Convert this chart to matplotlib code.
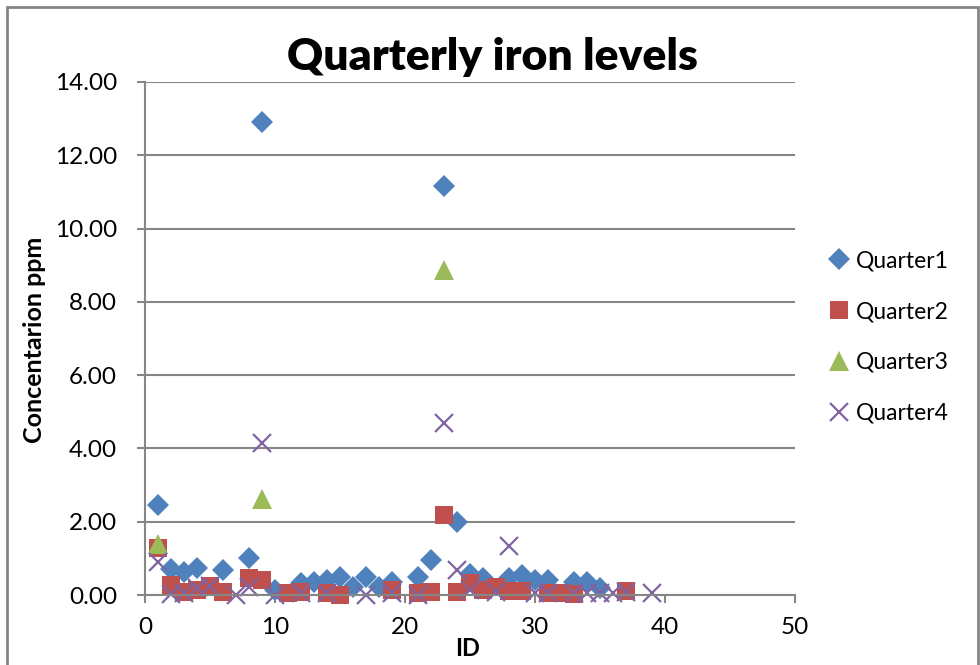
import matplotlib
matplotlib.use("Agg")
import matplotlib.pyplot as plt
from matplotlib.patches import Rectangle

plt.rcParams['font.family'] = ['Lato', 'DejaVu Sans']

# ---- data ----
q1_x = [1, 2, 3, 4, 6, 8, 9, 10, 12, 13, 14, 15, 16, 17, 18, 19, 21, 22, 23, 24,
        25, 26, 28, 29, 30, 31, 33, 34, 35]
q1_y = [2.45, 0.72, 0.64, 0.75, 0.67, 1.02, 12.92, 0.14, 0.33, 0.35, 0.41, 0.49,
        0.22, 0.49, 0.22, 0.35, 0.49, 0.96, 11.17, 1.98, 0.58, 0.46, 0.46, 0.55,
        0.41, 0.41, 0.35, 0.35, 0.19]

q2_x = [1, 2, 3, 4, 5, 6, 8, 9, 11, 12, 14, 15, 19, 21, 22, 23, 24, 25, 26, 27,
        28, 29, 31, 32, 33, 37]
q2_y = [1.28, 0.27, 0.08, 0.14, 0.25, 0.08, 0.46, 0.41, 0.05, 0.08, 0.05, 0.00,
        0.14, 0.05, 0.08, 2.18, 0.08, 0.33, 0.14, 0.22, 0.10, 0.12, 0.05, 0.05,
        0.02, 0.12]

q3_x = [1, 9, 23]
q3_y = [1.40, 2.62, 8.87]

q4_x = [1, 2, 3, 4, 5, 7, 8, 9, 10, 12, 14, 17, 19, 21, 23, 24, 25, 27, 28, 30,
        31, 33, 34, 35, 36, 37, 39]
q4_y = [0.90, 0.03, 0.05, 0.20, 0.25, 0.00, 0.22, 4.15, 0.00, 0.05, 0.05, 0.00,
        0.05, 0.00, 4.70, 0.68, 0.14, 0.08, 1.33, 0.05, 0.05, 0.05, 0.05, 0.05,
        0.05, 0.08, 0.05]

series_names = ["Quarter1", "Quarter2", "Quarter3", "Quarter4"]
x_ticks = [0, 10, 20, 30, 40, 50]
y_ticks = [0, 2, 4, 6, 8, 10, 12, 14]

colors = ["#4F81BD", "#C0504D", "#9BBB59", "#8064A2"]
grey = "#868686"

fig = plt.figure(figsize=(9.8, 6.65), dpi=100)
ax = fig.add_axes([145/980, 1-595/665, 650/980, 513/665])

ax.plot(q1_x, q1_y, linestyle='none', marker='D', markersize=11,
        color=colors[0], markeredgewidth=0, label=series_names[0], clip_on=False)
ax.plot(q2_x, q2_y, linestyle='none', marker='s', markersize=13,
        color=colors[1], markeredgewidth=0, label=series_names[1], clip_on=False)
ax.plot(q3_x, q3_y, linestyle='none', marker='^', markersize=14,
        color=colors[2], markeredgewidth=0, label=series_names[2], clip_on=False)
ax.plot(q4_x, q4_y, linestyle='none', marker='x', markersize=13,
        color=colors[3], markeredgewidth=1.6, label=series_names[3], clip_on=False)

ax.set_xlim(0, 50)
ax.set_ylim(0, 14)
ax.set_xticks(x_ticks)
ax.set_yticks(y_ticks)
ax.set_yticklabels([f"{v:.2f}" for v in y_ticks])
ax.yaxis.grid(True, color=grey, linewidth=1.5)
ax.set_axisbelow(True)
for s in ['top', 'right']:
    ax.spines[s].set_visible(False)
for s in ['left', 'bottom']:
    ax.spines[s].set_color(grey)
    ax.spines[s].set_linewidth(1.5)
ax.tick_params(axis='both', colors=grey, length=6, width=1.5, labelsize=17.5,
               labelcolor='black')
ax.tick_params(axis='y', pad=14)
ax.tick_params(axis='x', pad=10)

fig.text(492/980, 1-57/665, "Quarterly iron levels", ha='center', va='center',
         fontsize=32, fontweight='heavy')
fig.text(35/980, 1-340/665, "Concentarion ppm", rotation=90, ha='center',
         va='center', fontsize=18, fontweight='bold')
fig.text(468/980, 1-648/665, "ID", ha='center', va='center', fontsize=17,
         fontweight='bold')

leg = ax.legend(loc='center left', bbox_to_anchor=(828/980, 1-337/665),
                bbox_transform=fig.transFigure, frameon=False, fontsize=16.5,
                handlelength=1.0, handletextpad=0.2, labelspacing=1.3,
                borderpad=0, borderaxespad=0)

fig.patches.append(Rectangle((7/980, -0.1), 971/980, 1.1 - 7/665, fill=False,
                             edgecolor=grey, linewidth=2,
                             transform=fig.transFigure, figure=fig))

fig.savefig("out.png", dpi=100)
